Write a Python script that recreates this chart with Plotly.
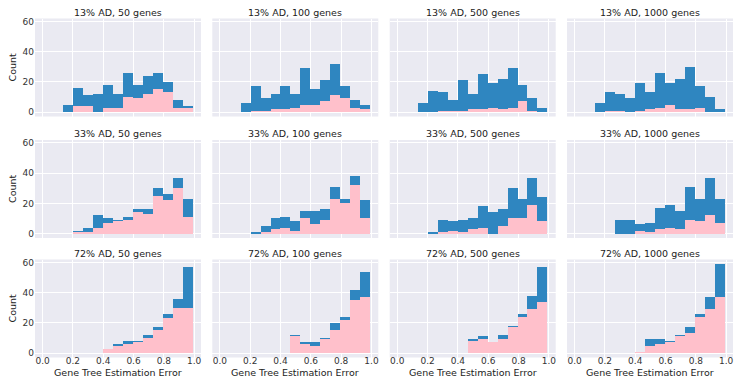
import plotly.graph_objects as go

# ---- data ----
row_labels = ["13% AD", "33% AD", "72% AD"]
gene_labels = ["50 genes", "100 genes", "500 genes", "1000 genes"]
bin_end = 0.99
bin_width = 0.0656

blue_13 = [[5, 16, 11, 12, 18, 12, 26, 18, 24, 26, 20, 8, 4],
           [6, 17, 9, 12, 17, 12, 29, 15, 21, 32, 17, 8, 5],
           [6, 14, 13, 8, 21, 12, 25, 19, 22, 29, 18, 9, 3],
           [6, 13, 12, 9, 19, 13, 26, 19, 22, 30, 17, 10, 2]]
pink_13 = [[0, 4, 4, 0, 3, 3, 10, 9, 12, 15, 13, 3, 3],
           [0, 1, 1, 2, 2, 3, 5, 5, 7, 11, 9, 3, 2],
           [0, 0, 1, 1, 1, 2, 2, 3, 2, 3, 7, 1, 0],
           [0, 1, 1, 0, 1, 2, 3, 5, 2, 2, 3, 0, 0]]
blue_33 = [[2, 4, 12, 10, 9, 11, 16, 16, 30, 26, 37, 23],
           [1, 5, 10, 11, 8, 15, 15, 16, 31, 23, 38, 22],
           [1, 9, 8, 9, 10, 18, 14, 16, 30, 23, 37, 24],
           [9, 9, 6, 7, 17, 19, 15, 31, 23, 37, 23]]
pink_33 = [[1, 1, 4, 7, 8, 9, 14, 13, 25, 22, 30, 11],
           [0, 1, 3, 4, 2, 10, 6, 9, 23, 20, 32, 10],
           [0, 1, 2, 1, 3, 4, 0, 5, 10, 10, 19, 8],
           [0, 0, 2, 1, 3, 4, 3, 9, 8, 12, 7]]
blue_72 = [[2, 6, 8, 8, 12, 17, 26, 36, 57],
           [12, 7, 7, 10, 20, 24, 42, 54],
           [9, 11, 6, 12, 18, 26, 38, 57],
           [1, 9, 9, 8, 12, 17, 26, 37, 59]]
pink_72 = [[3, 5, 6, 7, 10, 15, 23, 30, 30],
           [11, 6, 5, 9, 15, 22, 35, 37],
           [8, 9, 7, 9, 17, 24, 29, 34],
           [1, 5, 6, 7, 11, 13, 24, 29, 37]]

x_ticks = [0.0, 0.2, 0.4, 0.6, 0.8, 1.0]
x_tick_text = ["0.0", "0.2", "0.4", "0.6", "0.8", "1.0"]
y_ticks = [0, 20, 40, 60]
x_title = "Gene Tree Estimation Error"
y_title = "Count"

blues = [blue_13, blue_33, blue_72]
pinks = [pink_13, pink_33, pink_72]

BLUE = "#2f86c0"
PINK = "#ffc0cb"
BG = "#eaeaf2"
FONT = "DejaVu Sans"
W, H = 735, 378

# layout geometry (pixels)
col_left = [35, 212.3, 389.7, 567]
col_w = 166
row_top = [18.5, 140, 259.5]
row_h = 98

all_max = max(max(max(b) for b in rb) for rb in blues)
y_range = [-0.05 * all_max, 1.05 * all_max]
x_range = [-0.05, 1.045]

fig = go.Figure()
annotations = []
for r in range(3):
    for c in range(4):
        idx = r * 4 + c + 1
        xa = "x" if idx == 1 else f"x{idx}"
        ya = "y" if idx == 1 else f"y{idx}"
        bvals = blues[r][c]
        pvals = pinks[r][c]
        n = len(bvals)
        start = bin_end - n * bin_width
        centers = [start + (i + 0.5) * bin_width for i in range(n)]
        fig.add_trace(go.Bar(x=centers, y=bvals, width=bin_width, marker=dict(color=BLUE, line=dict(width=0)),
                             xaxis=xa, yaxis=ya, showlegend=False, hoverinfo="skip"))
        fig.add_trace(go.Bar(x=centers, y=pvals, width=bin_width, marker=dict(color=PINK, line=dict(width=0)),
                             xaxis=xa, yaxis=ya, showlegend=False, hoverinfo="skip"))
        x0 = col_left[c] / W
        x1 = (col_left[c] + col_w) / W
        y1 = 1 - row_top[r] / H
        y0 = 1 - (row_top[r] + row_h) / H
        xkey = "xaxis" if idx == 1 else f"xaxis{idx}"
        ykey = "yaxis" if idx == 1 else f"yaxis{idx}"
        fig.layout[xkey] = dict(domain=[x0, x1], range=x_range, autorange=False, anchor=ya,
                                tickvals=x_ticks, ticktext=x_tick_text, showticklabels=(r == 2),
                                showgrid=True, gridcolor="white", gridwidth=1, zeroline=False,
                                showline=False, ticks="", automargin=False, ticklabelstandoff=-4,
                                tickfont=dict(family=FONT, size=9, color="#333333"),
                                fixedrange=True)
        fig.layout[ykey] = dict(domain=[y0, y1], range=y_range, autorange=False, anchor=xa,
                                tickvals=y_ticks, showticklabels=(c == 0),
                                showgrid=True, gridcolor="white", gridwidth=1, zeroline=False,
                                showline=False, ticks="", automargin=False,
                                tickfont=dict(family=FONT, size=9, color="#333333"),
                                fixedrange=True)
        if r == 2:
            annotations.append(dict(text=x_title, x=(x0 + x1) / 2, y=1 - 372.5 / H,
                                    xref="paper", yref="paper", xanchor="center", yanchor="middle",
                                    showarrow=False, font=dict(family=FONT, size=9.5, color="#222222")))
        if c == 0:
            annotations.append(dict(text=y_title, x=12 / W, y=(y0 + y1) / 2, textangle=-90,
                                    xref="paper", yref="paper", xanchor="center", yanchor="middle",
                                    showarrow=False, font=dict(family=FONT, size=9.5, color="#222222")))
        annotations.append(dict(text=f"{row_labels[r]}, {gene_labels[c]}", x=(x0 + x1) / 2,
                                y=y1, xref="paper", yref="paper", xanchor="center", yanchor="bottom",
                                yshift=-1, showarrow=False,
                                font=dict(family=FONT, size=9.5, color="#222222")))

fig.update_layout(width=W, height=H, margin=dict(l=0, r=0, t=0, b=0, autoexpand=False),
                  plot_bgcolor=BG, paper_bgcolor="white", barmode="overlay", bargap=0,
                  annotations=annotations, showlegend=False)
fig.write_html("out.html", config={"displayModeBar": False, "staticPlot": True},
               post_script="document.body.style.margin='0';document.body.style.overflow='hidden';")
